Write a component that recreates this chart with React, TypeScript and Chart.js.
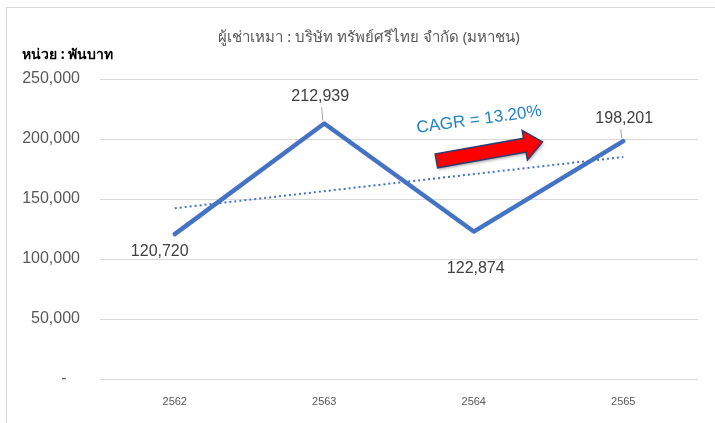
import React, { useEffect, useRef } from "react";
import { Chart, registerables } from "chart.js";

Chart.register(...registerables);

const years = ["2562", "2563", "2564", "2565"];
const leaseValues = [120720, 212939, 122874, 198201];
const trendValues = [142300, null, null, 185000];
const yTickValues = [0, 50000, 100000, 150000, 200000, 250000];
const titleText = "ผู้เช่าเหมา : บริษัท ทรัพย์ศรีไทย จำกัด (มหาชน)";
const unitText = "หน่วย : พันบาท";
const cagrText = "CAGR = 13.20%";
// arrow anchors in data space (category index, value)
const arrowFrom = [1.75, 181700];
const arrowTo = [2.46, 197500];
// label offsets (px) relative to each point: [dx, dy, leader]
const labelOffsets = [
  [-15, 17, 0],
  [-4, -27, 1],
  [2, 37, 0],
  [1, -23, 1],
];

const LABEL_FONT = "16px 'Liberation Sans', Arial, sans-serif";

const overlayPlugin = {
  id: "overlay",
  beforeDraw(chart: any) {
    const ctx = chart.ctx;
    ctx.save();
    ctx.fillStyle = "#ffffff";
    ctx.fillRect(0, 0, chart.width, chart.height);
    ctx.strokeStyle = "#D9D9D9";
    ctx.lineWidth = 1;
    ctx.strokeRect(6.5, 7.5, chart.width + 10, chart.height + 10);
    // title
    ctx.fillStyle = "#595959";
    ctx.font = "15px 'Noto Sans', 'Liberation Sans', sans-serif";
    ctx.textAlign = "center";
    ctx.textBaseline = "middle";
    ctx.fillText(titleText, 369, 38);
    // unit
    ctx.fillStyle = "#000000";
    ctx.font = "bold 14px 'Noto Sans', 'Liberation Sans', sans-serif";
    ctx.textAlign = "left";
    ctx.fillText(unitText, 22, 55);
    ctx.restore();
  },
  afterDatasetsDraw(chart: any) {
    const ctx = chart.ctx;
    const xs = chart.scales.x;
    const ys = chart.scales.y;
    ctx.save();
    // data labels
    ctx.font = LABEL_FONT;
    ctx.fillStyle = "#404040";
    ctx.textAlign = "center";
    ctx.textBaseline = "middle";
    leaseValues.forEach((v, i) => {
      const px = xs.getPixelForValue(i);
      const py = ys.getPixelForValue(v);
      const [dx, dy, leader] = labelOffsets[i];
      ctx.fillText(v.toLocaleString("en-US"), px + dx, py + dy);
      if (leader) {
        ctx.strokeStyle = "#A6A6A6";
        ctx.lineWidth = 1;
        ctx.beginPath();
        ctx.moveTo(px - 2.5, py + dy + 11);
        ctx.lineTo(px - 1.5, py - 3);
        ctx.stroke();
      }
    });
    // arrow
    const x0 = xs.getPixelForValue(arrowFrom[0]);
    const y0 = ys.getPixelForValue(arrowFrom[1]);
    const x1 = xs.getPixelForValue(arrowTo[0]);
    const y1 = ys.getPixelForValue(arrowTo[1]);
    const ang = Math.atan2(y1 - y0, x1 - x0);
    const len = Math.hypot(x1 - x0, y1 - y0);
    ctx.save();
    ctx.translate(x0, y0);
    ctx.rotate(ang);
    const sh = 7, hh = 15, hl = 18;
    ctx.beginPath();
    ctx.moveTo(0, -sh);
    ctx.lineTo(len - hl, -sh);
    ctx.lineTo(len - hl, -hh);
    ctx.lineTo(len, 0);
    ctx.lineTo(len - hl, hh);
    ctx.lineTo(len - hl, sh);
    ctx.lineTo(0, sh);
    ctx.closePath();
    ctx.shadowColor = "rgba(0,0,0,0.35)";
    ctx.shadowBlur = 3;
    ctx.shadowOffsetX = 1;
    ctx.shadowOffsetY = 2;
    ctx.fillStyle = "#FF0000";
    ctx.fill();
    ctx.shadowColor = "transparent";
    ctx.strokeStyle = "#2F3D6B";
    ctx.lineWidth = 1.5;
    ctx.stroke();
    // CAGR text
    ctx.rotate(0.04);
    ctx.font = "17px 'Liberation Sans', Arial, sans-serif";
    ctx.fillStyle = "#2383C6";
    ctx.textAlign = "center";
    ctx.textBaseline = "middle";
    ctx.fillText(cagrText, len / 2 - 6, -35);
    ctx.restore();
    ctx.restore();
  },
};

export default function App() {
  const ref = useRef<HTMLCanvasElement>(null);
  useEffect(() => {
    if (!ref.current) return;
    const chart = new Chart(ref.current, {
      type: "line",
      data: {
        labels: years,
        datasets: [
          {
            data: trendValues,
            borderColor: "#4472C4",
            borderWidth: 2,
            borderDash: [2, 3],
            pointRadius: 0,
            spanGaps: true,
            fill: false,
          },
          {
            data: leaseValues,
            borderColor: "#4472C4",
            borderWidth: 4.5,
            pointRadius: 0,
            tension: 0,
            borderCapStyle: "round",
            borderJoinStyle: "round",
            fill: false,
          },
        ],
      },
      options: {
        animation: false,
        responsive: false,
        devicePixelRatio: 1,
        layout: { padding: { left: 0, right: 17, top: 79, bottom: 0 } },
        plugins: {
          legend: { display: false },
          title: { display: false },
          tooltip: { enabled: false },
        },
        scales: {
          x: {
            type: "category",
            offset: true,
            grid: { display: false, drawTicks: false },
            border: { display: false },
            ticks: {
              font: { size: 11, family: "'Liberation Sans', Arial, sans-serif" },
              color: "#595959",
              padding: 16,
              maxRotation: 0,
            },
            afterFit: (s: any) => {
              s.height = 44;
            },
          },
          y: {
            min: 0,
            max: 250000,
            afterBuildTicks: (s: any) => {
              s.ticks = yTickValues.map((v) => ({ value: v }));
            },
            grid: { color: "#D9D9D9", drawTicks: false, lineWidth: 1 },
            border: { display: false },
            ticks: {
              font: { size: 16, family: "'Liberation Sans', Arial, sans-serif" },
              color: "#595959",
              padding: 20,
              callback: (v: any) => (v === 0 ? "-   " : Number(v).toLocaleString("en-US")),
            },
            afterFit: (s: any) => {
              s.width = 100;
            },
          },
        },
      },
      plugins: [overlayPlugin],
    });
    return () => chart.destroy();
  }, []);
  return (
    <div style={{ position: "fixed", left: 0, top: 0, width: 715, height: 423, background: "#fff" }}>
      <canvas ref={ref} width={715} height={423} style={{ width: 715, height: 423, display: "block" }} />
    </div>
  );
}
